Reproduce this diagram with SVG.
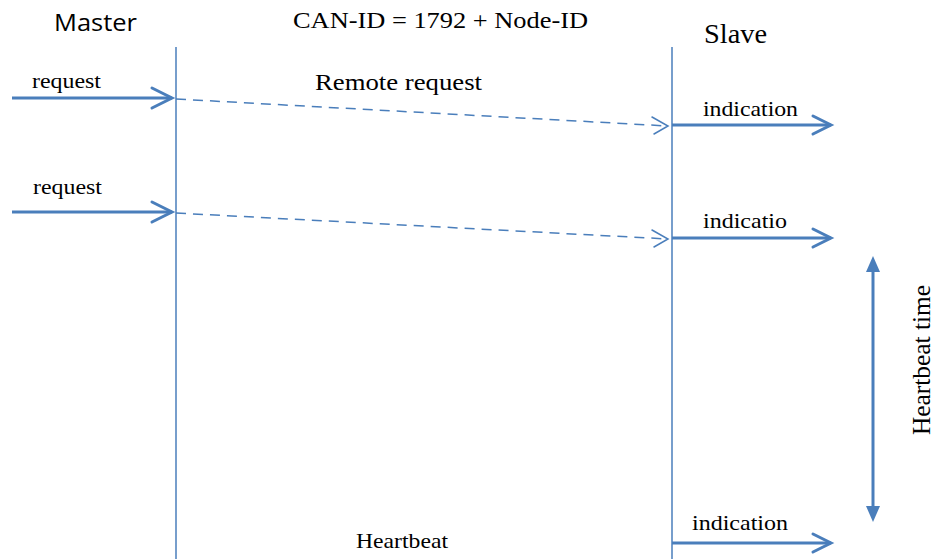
<svg xmlns="http://www.w3.org/2000/svg" width="936" height="559" viewBox="0 0 936 559">
<style>
.t{font-family:"Liberation Serif","Times New Roman",serif;fill:#000}
.life{stroke:#4A7EBB;stroke-width:1.5;fill:none}
.sol{stroke:#4A7EBB;stroke-width:3;fill:none}
.dash{stroke:#4A7EBB;stroke-width:1.5;stroke-dasharray:10,7;fill:none}
.head{stroke:#4A7EBB;stroke-width:3;fill:none;stroke-linecap:round;stroke-linejoin:miter}
.headt{stroke:#4A7EBB;stroke-width:1.5;fill:none;stroke-linecap:round}
</style>
<rect width="936" height="559" fill="#fff"/>
<g id="master">
<text x="54" y="31" font-family="'Open Sans','Liberation Sans',sans-serif" font-size="24" textLength="83" lengthAdjust="spacingAndGlyphs">Master</text>
<line class="life" x1="176" y1="47" x2="176" y2="559"/>
</g>
<g id="slave">
<text class="t" x="704" y="43" font-size="28" textLength="63" lengthAdjust="spacingAndGlyphs">Slave</text>
<line class="life" x1="672" y1="47" x2="672" y2="559"/>
</g>
<g id="title"><text class="t" x="293" y="28" font-size="24" textLength="295" lengthAdjust="spacingAndGlyphs">CAN-ID = 1792 + Node-ID</text></g>
<g id="connectors">
<line class="sol" x1="12" y1="98" x2="172" y2="98"/>
<polyline class="head" points="152,88 172,98 152,108"/>
<line class="sol" x1="12" y1="212" x2="172" y2="212"/>
<polyline class="head" points="152,202 172,212 152,222"/>
<line class="dash" x1="176" y1="99" x2="668" y2="126"/>
<polyline class="headt" points="652,117 668,126 654,134"/>
<line class="dash" x1="176" y1="213" x2="668" y2="239"/>
<polyline class="headt" points="652,230 668,239 654,247"/>
<line class="sol" x1="672" y1="125" x2="831" y2="125"/>
<polyline class="head" points="813,116 831,125 813,134"/>
<line class="sol" x1="672" y1="238" x2="831" y2="238"/>
<polyline class="head" points="813,229 831,238 813,247"/>
<line class="sol" x1="672" y1="543" x2="831" y2="543"/>
<polyline class="head" points="813,534 831,543 813,552"/>
<line class="sol" x1="873" y1="268" x2="873" y2="510"/>
<polygon points="873,256 866,272 880,272" fill="#4A7EBB"/>
<polygon points="873,522 866,506 880,506" fill="#4A7EBB"/>
</g>
<g id="labels">
<text class="t" x="32" y="88" font-size="21" textLength="69" lengthAdjust="spacingAndGlyphs">request</text>
<text class="t" x="33" y="194" font-size="21" textLength="69" lengthAdjust="spacingAndGlyphs">request</text>
<text class="t" x="315" y="90" font-size="24" textLength="167" lengthAdjust="spacingAndGlyphs">Remote request</text>
<text class="t" x="703" y="116" font-size="22" textLength="95" lengthAdjust="spacingAndGlyphs">indication</text>
<text class="t" x="703" y="228" font-size="22" textLength="84" lengthAdjust="spacingAndGlyphs">indicatio</text>
<text class="t" x="692" y="530" font-size="22" textLength="96" lengthAdjust="spacingAndGlyphs">indication</text>
<text class="t" x="356" y="548" font-size="21" textLength="92" lengthAdjust="spacingAndGlyphs">Heartbeat</text>
<text class="t" transform="translate(930,360) rotate(-90)" x="-75" y="0" font-size="25" textLength="150" lengthAdjust="spacingAndGlyphs">Heartbeat time</text>
</g>
</svg>
